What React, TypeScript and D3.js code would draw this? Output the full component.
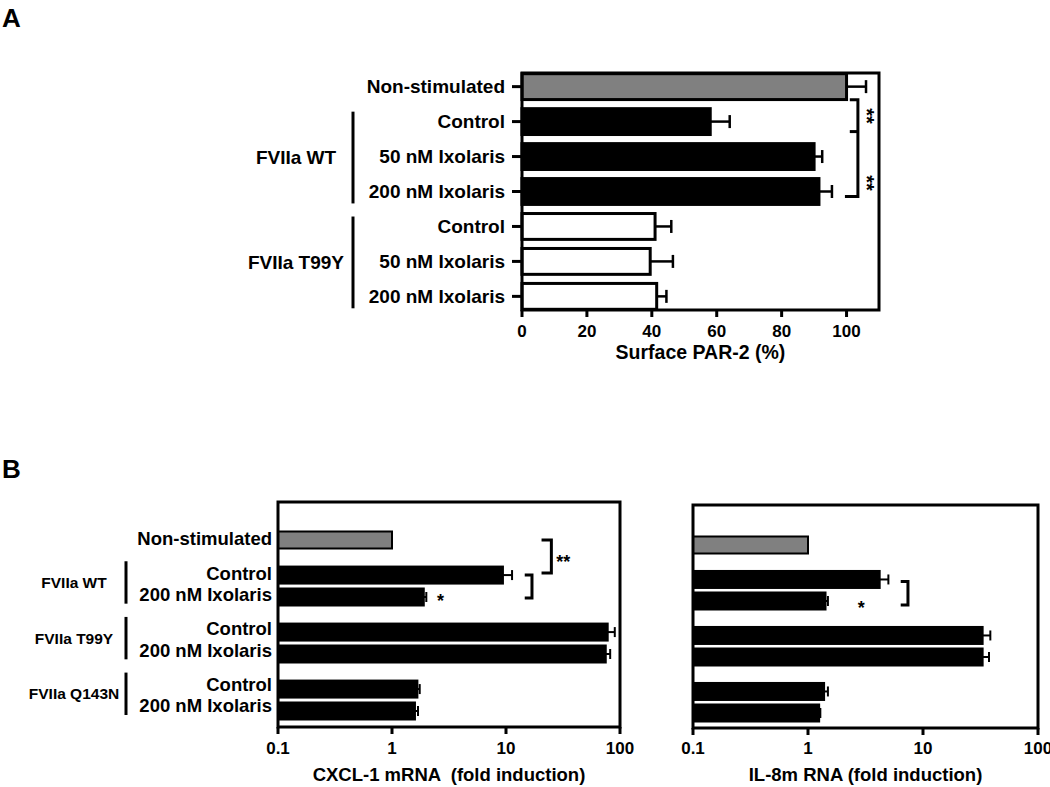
import React from 'react';
import * as d3 from 'd3';

// ---------- Panel A data ----------
const categoriesA = ['Non-stimulated', 'Control', '50 nM Ixolaris', '200 nM Ixolaris', 'Control', '50 nM Ixolaris', '200 nM Ixolaris'];
const groupsA = ['', 'FVIIa WT', 'FVIIa WT', 'FVIIa WT', 'FVIIa T99Y', 'FVIIa T99Y', 'FVIIa T99Y'];
const surfacePar2 = [100, 58, 90, 91.5, 41, 39.5, 41.5];
const surfacePar2Err = [6, 6, 2.5, 4, 5, 7, 3];
const ticksA = [0, 20, 40, 60, 80, 100];

// ---------- Panel B data ----------
const categoriesB = ['Non-stimulated', 'Control', '200 nM Ixolaris', 'Control', '200 nM Ixolaris', 'Control', '200 nM Ixolaris'];
const groupsB = ['', 'FVIIa WT', 'FVIIa WT', 'FVIIa T99Y', 'FVIIa T99Y', 'FVIIa Q143N', 'FVIIa Q143N'];
const cxcl1 = [1.0, 9.4, 1.9, 78, 75, 1.67, 1.59];
const cxcl1Err = [0, 1.9, 0.1, 12, 7, 0.08, 0.1];
const il8 = [1.0, 4.2, 1.42, 33, 33, 1.38, 1.25];
const il8Err = [0, 0.8, 0.07, 5.5, 4.5, 0.11, 0.03];
const ticksB = [0.1, 1, 10, 100];

const FONT = '"Liberation Sans", Arial, Helvetica, sans-serif';
const GRAY = '#808080';

function uniqueGroups(groups: string[]) {
  return Array.from(new Set(groups.filter((g) => g !== '')));
}

function slotPositions(groups: string[]) {
  const slots: number[] = [];
  let s = 0;
  groups.forEach((g, i) => {
    if (i > 0) s += g !== groups[i - 1] ? 1.6 : 1;
    slots.push(s);
  });
  return slots;
}

function PanelA() {
  const left = 522, right = 879, top = 73, bottom = 310;
  const x = d3.scaleLinear().domain([0, 110]).range([left, right]);
  const y = d3.scaleBand<number>().domain(d3.range(categoriesA.length)).range([top, bottom]).paddingInner(0.26).paddingOuter(0.02);
  const bw = y.bandwidth();
  const fillFor = (g: string) => (g === '' ? GRAY : g === 'FVIIa WT' ? '#000' : '#fff');
  const groups = uniqueGroups(groupsA);
  const cy = (i: number) => (y(i) as number) + bw / 2;
  const brX = x(103.5);
  return (
    <g fontFamily={FONT} fontWeight="bold">
      {categoriesA.map((c, i) => (
        <g key={i}>
          <rect x={x(0)} y={y(i)} width={x(surfacePar2[i]) - x(0)} height={bw} fill={fillFor(groupsA[i])} stroke="#000" strokeWidth={3} />
          <line x1={x(surfacePar2[i])} x2={x(surfacePar2[i] + surfacePar2Err[i])} y1={cy(i)} y2={cy(i)} stroke="#000" strokeWidth={2.5} />
          <line x1={x(surfacePar2[i] + surfacePar2Err[i])} x2={x(surfacePar2[i] + surfacePar2Err[i])} y1={cy(i) - 6.5} y2={cy(i) + 6.5} stroke="#000" strokeWidth={2.5} />
          <line x1={left - 10} x2={left} y1={cy(i)} y2={cy(i)} stroke="#000" strokeWidth={3} />
          <text x={505} y={cy(i)} dy="0.35em" textAnchor="end" fontSize={19}>{c}</text>
        </g>
      ))}
      {groups.map((g) => {
        const idx = groupsA.map((d, i) => (d === g ? i : -1)).filter((i) => i >= 0);
        const y0 = (y(idx[0]) as number) + 3;
        const y1 = (y(idx[idx.length - 1]) as number) + bw - 1;
        return (
          <g key={g}>
            <line x1={353} x2={353} y1={y0} y2={y1} stroke="#000" strokeWidth={3} />
            <text x={296} y={(y0 + y1) / 2} dy="0.35em" textAnchor="middle" fontSize={19}>{g}</text>
          </g>
        );
      })}
      <rect x={left} y={top} width={right - left} height={bottom - top} fill="none" stroke="#000" strokeWidth={3} />
      {ticksA.map((t) => (
        <g key={t}>
          <line x1={x(t)} x2={x(t)} y1={bottom} y2={bottom + 7} stroke="#000" strokeWidth={3} />
          <text x={x(t)} y={337} textAnchor="middle" fontSize={17}>{t}</text>
        </g>
      ))}
      <text x={(left + right) / 2} y={359} textAnchor="middle" fontSize={19.5}>Surface PAR-2 (%)</text>
      {/* significance brackets */}
      <path d={`M${x(101)},${cy(0) + 13}H${brX}V${cy(3) + 5}H${x(99.5)}`} fill="none" stroke="#000" strokeWidth={3} />
      <line x1={x(101)} x2={brX} y1={cy(1) + 10} y2={cy(1) + 10} stroke="#000" strokeWidth={3} />
      <text transform={`translate(${brX + 2},${(cy(0) + cy(1)) / 2 + 12}) rotate(90)`} textAnchor="middle" fontSize={20}>**</text>
      <text transform={`translate(${brX + 2},${(cy(2) + cy(3)) / 2 + 9}) rotate(90)`} textAnchor="middle" fontSize={20}>**</text>
    </g>
  );
}

function LogChart({ left, right, top, bottom, firstY, lastY, values, errs, title, children }: any) {
  const x = d3.scaleLog().domain([0.1, 100]).range([left, right]);
  const slots = slotPositions(groupsB);
  const y = d3.scaleLinear().domain([0, slots[slots.length - 1]]).range([firstY, lastY]);
  const bh = 17;
  return (
    <g fontFamily={FONT} fontWeight="bold">
      {values.map((v: number, i: number) => {
        const cy = y(slots[i]);
        const e = v + errs[i];
        return (
          <g key={i}>
            <rect x={x(0.1)} y={cy - bh / 2} width={x(v) - x(0.1)} height={bh} fill={groupsB[i] === '' ? GRAY : '#000'} stroke="#000" strokeWidth={2} />
            {errs[i] > 0 && (
              <g>
                <line x1={x(v)} x2={x(e)} y1={cy} y2={cy} stroke="#000" strokeWidth={2} />
                <line x1={x(e)} x2={x(e)} y1={cy - 5} y2={cy + 5} stroke="#000" strokeWidth={2} />
              </g>
            )}
          </g>
        );
      })}
      <rect x={left} y={top} width={right - left} height={bottom - top} fill="none" stroke="#000" strokeWidth={3} />
      {ticksB.map((t) => (
        <g key={t}>
          <line x1={x(t)} x2={x(t)} y1={bottom} y2={bottom + 7} stroke="#000" strokeWidth={3} />
          <text x={x(t)} y={754} textAnchor="middle" fontSize={17}>{t}</text>
        </g>
      ))}
      <text x={(left + right) / 2} y={781} textAnchor="middle" fontSize={18.5} style={{ whiteSpace: 'pre' }}>{title}</text>
      {children && children(x, (i: number) => y(slots[i]))}
    </g>
  );
}

function PanelBLabels() {
  const slots = slotPositions(groupsB);
  const y = d3.scaleLinear().domain([0, slots[slots.length - 1]]).range([539, 706]);
  const groups = uniqueGroups(groupsB);
  return (
    <g fontFamily={FONT} fontWeight="bold">
      {categoriesB.map((c, i) => (
        <text key={i} x={272} y={y(slots[i])} dy="0.35em" textAnchor="end" fontSize={18.5}>{c}</text>
      ))}
      {groups.map((g) => {
        const idx = groupsB.map((d, i) => (d === g ? i : -1)).filter((i) => i >= 0);
        const y0 = y(slots[idx[0]]) - 12;
        const y1 = y(slots[idx[idx.length - 1]]) + 9;
        return (
          <g key={g}>
            <line x1={126} x2={126} y1={y0} y2={y1} stroke="#000" strokeWidth={3} />
            <text x={74} y={(y0 + y1) / 2} dy="0.35em" textAnchor="middle" fontSize={15.5}>{g}</text>
          </g>
        );
      })}
    </g>
  );
}

export default function App() {
  return (
    <svg width={1050} height={787} style={{ position: 'absolute', left: 0, top: 0, background: '#fff' }}>
      <rect width={1050} height={787} fill="#fff" />
      <text x={2} y={27} fontFamily={FONT} fontWeight="bold" fontSize={26}>A</text>
      <text x={2} y={478} fontFamily={FONT} fontWeight="bold" fontSize={26}>B</text>
      <PanelA />
      <PanelBLabels />
      <LogChart left={278} right={620} top={502} bottom={727} firstY={540} lastY={711} values={cxcl1} errs={cxcl1Err} title="CXCL-1 mRNA  (fold induction)">
        {(x: any, cy: (i: number) => number) => (
          <g>
            <path d={`M${x(20.5)},${cy(0)}H${x(25)}V${cy(1) - 2}H${x(20.5)}`} fill="none" stroke="#000" strokeWidth={3} />
            <text x={x(25) + 5} y={(cy(0) + cy(1)) / 2 + 10} fontSize={18}>**</text>
            <path d={`M${x(14.6)},${cy(1)}H${x(16.9)}V${cy(2) + 1}H${x(14.6)}`} fill="none" stroke="#000" strokeWidth={3} />
            <text x={x(2.66)} y={cy(2) + 10} textAnchor="middle" fontSize={18}>*</text>
          </g>
        )}
      </LogChart>
      <LogChart left={693} right={1038} top={505} bottom={728} firstY={545} lastY={713} values={il8} errs={il8Err} title="IL-8m RNA (fold induction)">
        {(x: any, cy: (i: number) => number) => (
          <g>
            <path d={`M${x(6.4)},${cy(1) + 2}H${x(7.4)}V${cy(2) + 4}H${x(6.4)}`} fill="none" stroke="#000" strokeWidth={3} />
            <text x={x(2.9)} y={cy(2) + 13} textAnchor="middle" fontSize={18}>*</text>
          </g>
        )}
      </LogChart>
    </svg>
  );
}
